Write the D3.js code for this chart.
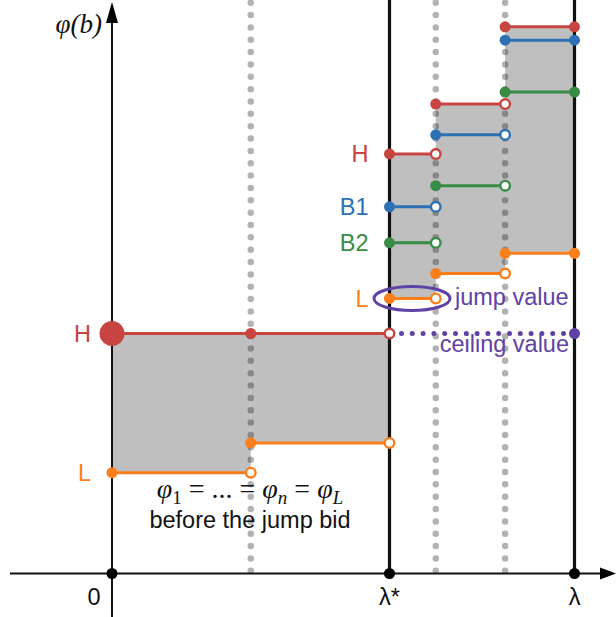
<!DOCTYPE html>
<html>
<head>
<meta charset="utf-8">
<script src="https://cdn.jsdelivr.net/npm/d3@7"></script>
<style>
  html, body { margin: 0; padding: 0; background: #fff; }
  svg { display: block; }
</style>
</head>
<body>
<script>
// ---------------- data ----------------
// x breakpoints (0 ... lambda*, ..., lambda)
const xBreaks = [0, 3, 6, 7, 8.5, 10];
const xTickLabels = ["0", "λ*", "λ"];
const xTickValues = [0, 6, 10];
// before the jump bid (intervals [0,3] and [3,6])
const preCeiling = 5.0;            // H before jump = ceiling value
const preL = [2.10, 2.72];         // L on [0,3], [3,6]
// after the jump bid (intervals [6,7], [7,8.5], [8.5,10])
const seriesNames = ["H", "B1", "B2", "L"];
const seriesH  = [8.74, 9.78, 11.39];
const seriesB1 = [7.64, 9.14, 11.11];
const seriesB2 = [6.89, 8.08, 10.03];
const seriesL  = [5.73, 6.25, 6.67];
const guideX = [3, 7, 8.5];        // dotted gray guides

// ---------------- layout / style ----------------
const W = 616, H = 617;
const C = { H: "#c74440", B1: "#2d70b3", B2: "#388c46", L: "#fa7e19", P: "#6042a6" };
const seriesVals = { H: seriesH, B1: seriesB1, B2: seriesB2, L: seriesL };

const x = d3.scaleLinear().domain([0, 10]).range([112, 574.5]);
const y = d3.scaleLinear().domain([0, 10]).range([573.5, 93.5]);

const svg = d3.select("body").append("svg").attr("width", W).attr("height", H);

const sans = "'Liberation Sans', Arial, Helvetica, sans-serif";
const serif = "'Liberation Serif', 'Times New Roman', serif";
const FS = 23.5;

// ---- gray fills ----
const fills = [
  { x0: xBreaks[0], x1: xBreaks[1], top: preCeiling, bot: preL[0] },
  { x0: xBreaks[1], x1: xBreaks[2], top: preCeiling, bot: preL[1] },
];
for (let i = 0; i < 3; i++) {
  fills.push({ x0: xBreaks[2 + i], x1: xBreaks[3 + i], top: seriesH[i], bot: seriesL[i] });
}
svg.append("g").selectAll("rect").data(fills).join("rect")
  .attr("x", d => x(d.x0)).attr("width", d => x(d.x1) - x(d.x0))
  .attr("y", d => y(d.top)).attr("height", d => y(d.bot) - y(d.top))
  .attr("fill", "#bfbfbf");

// ---- dotted gray guides ----
svg.append("g").selectAll("line").data(guideX).join("line")
  .attr("x1", d => x(d)).attr("x2", d => x(d))
  .attr("y1", 2.7).attr("y2", y(0) - 2)
  .attr("stroke", "rgba(0,0,0,0.3)").attr("stroke-width", 6.5)
  .attr("stroke-linecap", "round").attr("stroke-dasharray", "0 12.35");

// ---- axes ----
const ax = svg.append("g");
ax.append("line").attr("x1", 10).attr("x2", 602).attr("y1", y(0)).attr("y2", y(0))
  .attr("stroke", "#111").attr("stroke-width", 2);
ax.append("path").attr("d", `M616,${y(0)} L600,${y(0) - 6} L600,${y(0) + 6} Z`).attr("fill", "#000");
ax.append("line").attr("x1", x(0)).attr("x2", x(0)).attr("y1", 617).attr("y2", 20)
  .attr("stroke", "#111").attr("stroke-width", 2);
ax.append("path").attr("d", `M${x(0)},2 L${x(0) - 6},23 L${x(0) + 6},23 Z`).attr("fill", "#000");

// black vertical lines at lambda* and lambda
svg.append("g").selectAll("line").data([6, 10]).join("line")
  .attr("x1", d => x(d)).attr("x2", d => x(d))
  .attr("y1", 0).attr("y2", y(0))
  .attr("stroke", "#111").attr("stroke-width", 3.2);

// axis dots
svg.append("g").selectAll("circle").data(xTickValues).join("circle")
  .attr("cx", d => x(d)).attr("cy", y(0)).attr("r", 5.5).attr("fill", "#000");

// axis labels
svg.append("g").selectAll("text").data(xTickValues).join("text")
  .attr("x", (d, i) => i === 0 ? x(d) - 18 : x(d))
  .attr("y", 605)
  .attr("text-anchor", "middle")
  .attr("font-family", sans).attr("font-size", FS).attr("fill", "#111")
  .text((d, i) => xTickLabels[i]);

// phi(b) label
svg.append("text").attr("x", 102).attr("y", 33).attr("text-anchor", "end")
  .attr("font-family", serif).attr("font-style", "italic").attr("font-size", 27).attr("fill", "#111")
  .text("φ(b)");

// ---- segments ----
const segs = [];
segs.push({ c: C.H, x0: xBreaks[0], x1: xBreaks[2], v: preCeiling, closedEnd: false });
segs.push({ c: C.L, x0: xBreaks[0], x1: xBreaks[1], v: preL[0], closedEnd: false });
segs.push({ c: C.L, x0: xBreaks[1], x1: xBreaks[2], v: preL[1], closedEnd: false });
seriesNames.forEach(n => {
  seriesVals[n].forEach((v, i) => {
    segs.push({ c: C[n], x0: xBreaks[2 + i], x1: xBreaks[3 + i], v: v, closedEnd: i === 2 });
  });
});

// purple ceiling dotted line
svg.append("line")
  .attr("x1", x(6) + 12).attr("x2", x(10)).attr("y1", y(preCeiling)).attr("y2", y(preCeiling))
  .attr("stroke", C.P).attr("stroke-width", 5).attr("stroke-linecap", "round")
  .attr("stroke-dasharray", "0 10.8");
svg.append("circle").attr("cx", x(10)).attr("cy", y(preCeiling)).attr("r", 5.5).attr("fill", C.P);

const sg = svg.append("g");
sg.selectAll("line").data(segs).join("line")
  .attr("x1", d => x(d.x0)).attr("x2", d => x(d.x1))
  .attr("y1", d => y(d.v)).attr("y2", d => y(d.v))
  .attr("stroke", d => d.c).attr("stroke-width", 3);

// start dots (filled)
sg.selectAll("circle.s").data(segs).join("circle").attr("class", "s")
  .attr("cx", d => x(d.x0)).attr("cy", d => y(d.v)).attr("r", 5.5).attr("fill", d => d.c);
// end dots
sg.selectAll("circle.e").data(segs).join("circle").attr("class", "e")
  .attr("cx", d => x(d.x1)).attr("cy", d => y(d.v))
  .attr("r", d => d.closedEnd ? 5.5 : 4.8)
  .attr("fill", d => d.closedEnd ? d.c : "#fff")
  .attr("stroke", d => d.closedEnd ? "none" : d.c)
  .attr("stroke-width", 2.4);
// small red dot at x=3 on ceiling, big H dot at 0
sg.append("circle").attr("cx", x(xBreaks[1])).attr("cy", y(preCeiling)).attr("r", 5.5).attr("fill", C.H);
sg.append("circle").attr("cx", x(0)).attr("cy", y(preCeiling)).attr("r", 12.5).attr("fill", C.H);

// ---- labels ----
const lab = svg.append("g").attr("font-family", sans).attr("font-size", FS).attr("text-anchor", "end");
lab.append("text").attr("x", 91).attr("y", y(preCeiling) + 8.4).attr("fill", C.H).text("H");
lab.append("text").attr("x", 91).attr("y", y(preL[0]) + 8.4).attr("fill", C.L).text("L");
seriesNames.forEach(n => {
  lab.append("text").attr("x", 368.5).attr("y", y(seriesVals[n][0]) + 8.4).attr("fill", C[n]).text(n);
});

// jump value ellipse + text
svg.append("ellipse").attr("cx", 412).attr("cy", y(seriesL[0])).attr("rx", 38).attr("ry", 12)
  .attr("fill", "none").attr("stroke", C.P).attr("stroke-width", 3);
svg.append("text").attr("x", 455).attr("y", y(seriesL[0]) + 6.5)
  .attr("font-family", sans).attr("font-size", FS).attr("fill", C.P).text("jump value");
svg.append("text").attr("x", 569).attr("y", y(preCeiling) + 18.5).attr("text-anchor", "end")
  .attr("font-family", sans).attr("font-size", FS).attr("fill", C.P).text("ceiling value");

// math caption
const m = svg.append("text").attr("x", 250).attr("y", 498).attr("text-anchor", "middle")
  .attr("font-family", serif).attr("font-size", 28).attr("fill", "#111");
const part = (t, opts = {}) => {
  const s = m.append("tspan").text(t);
  if (opts.it) s.attr("font-style", "italic");
  if (opts.sub) s.attr("font-size", 19).attr("dy", 6);
  if (opts.up) s.attr("dy", -6);
  return s;
};
part("φ", { it: true }); part("1", { sub: true }); part(" = ", { up: true });
part("... = "); part("φ", { it: true }); part("n", { sub: true, it: true }); part(" = ", { up: true });
part("φ", { it: true }); part("L", { sub: true, it: true });

svg.append("text").attr("x", 250).attr("y", 528).attr("text-anchor", "middle")
  .attr("font-family", sans).attr("font-size", FS).attr("fill", "#111").text("before the jump bid");
</script>
</body>
</html>
